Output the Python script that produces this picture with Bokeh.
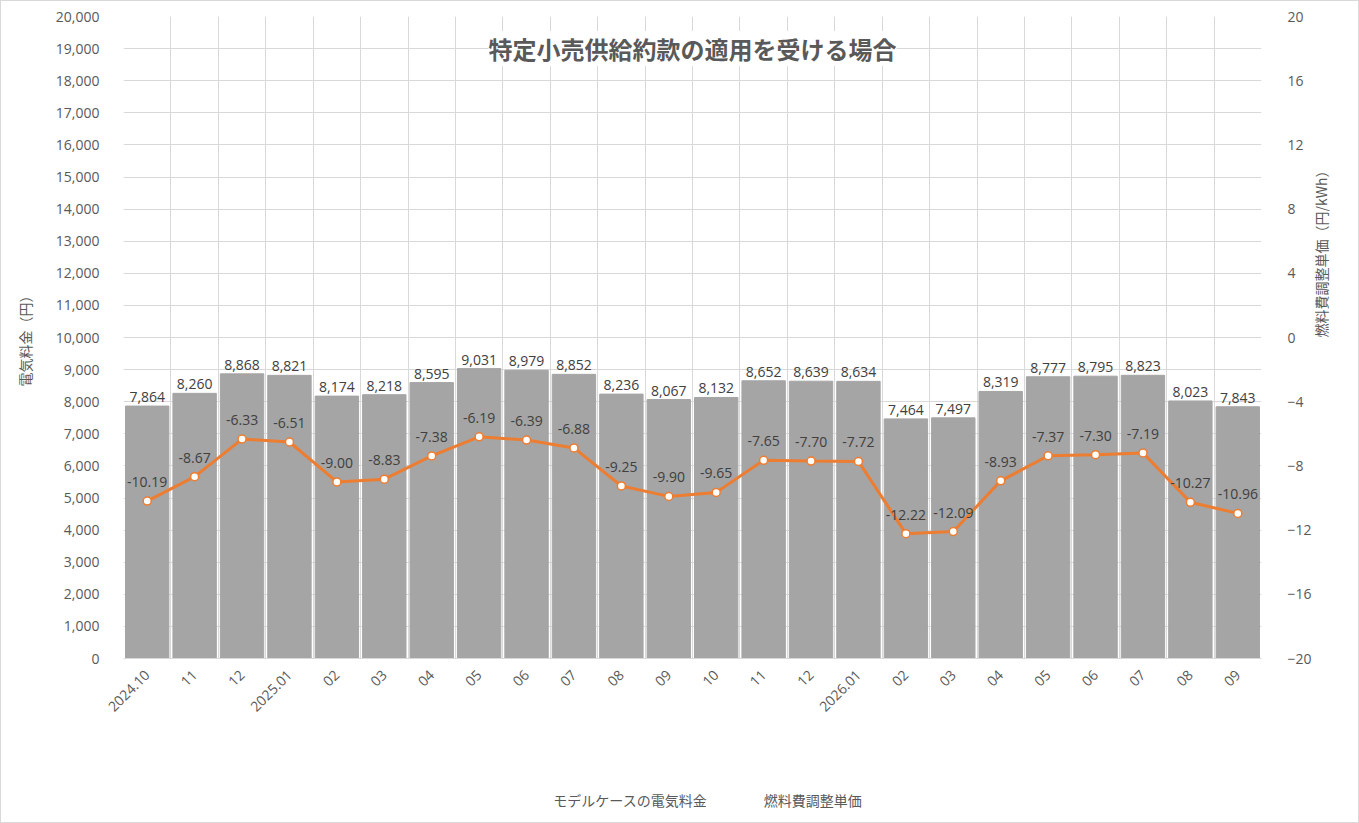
from bokeh.plotting import figure
from bokeh.layouts import column
from bokeh.models import (ColumnDataSource, Range1d, LinearAxis, FixedTicker,
                          Legend, LegendItem, Label, LabelSet)
from bokeh.core.properties import value
from bokeh.embed import file_html
from bokeh.resources import INLINE
import math

months = ["2024.10", "11", "12", "2025.01", "02", "03", "04", "05", "06", "07", "08", "09",
          "10", "11", "12", "2026.01", "02", "03", "04", "05", "06", "07", "08", "09"]
bill = [7864, 8260, 8868, 8821, 8174, 8218, 8595, 9031, 8979, 8852, 8236, 8067,
        8132, 8652, 8639, 8634, 7464, 7497, 8319, 8777, 8795, 8823, 8023, 7843]
fuel = [-10.19, -8.67, -6.33, -6.51, -9.00, -8.83, -7.38, -6.19, -6.39, -6.88, -9.25, -9.90,
        -9.65, -7.65, -7.70, -7.72, -12.22, -12.09, -8.93, -7.37, -7.30, -7.19, -10.27, -10.96]

title_text = "特定小売供給約款の適用を受ける場合"
left_label = "電気料金（円）"
right_label = "燃料費調整単価（円/kWh）"
bar_name = "モデルケースの電気料金"
line_name = "燃料費調整単価"

TXT = "#595959"
LBL = "#404040"
GRID = "#D9D9D9"
BAR = "#A5A5A5"
ORANGE = "#ED7D31"
NUM_FONT = "Open Sans"
JP_FONT = "Noto Sans CJK JP"

xs = [i + 0.5 for i in range(len(months))]
src = ColumnDataSource(dict(
    x=xs, bill=bill, fuel=fuel,
    bill_txt=[f"{v:,}" for v in bill],
    fuel_txt=[f"{v:.2f}" for v in fuel],
))

fig = figure(width=1357, height=777, output_backend="svg", toolbar_location=None,
             x_range=Range1d(0, len(months)), y_range=Range1d(0, 20000),
             frame_width=1138, frame_height=642,
             min_border_left=122, min_border_right=97, min_border_top=15, min_border_bottom=120)
fig.outline_line_color = None
fig.background_fill_color = "white"
fig.border_fill_color = "white"

fig.extra_y_ranges = {"fuel": Range1d(-20, 20)}

# grids
fig.xgrid.ticker = FixedTicker(ticks=list(range(len(months) + 1)))
fig.ygrid.ticker = FixedTicker(ticks=list(range(0, 20001, 1000)))
fig.xgrid.grid_line_color = GRID
fig.ygrid.grid_line_color = GRID

# x axis
xa = fig.xaxis[0]
xa.ticker = FixedTicker(ticks=xs)
xa.major_label_overrides = {x: m for x, m in zip(xs, months)}
xa.major_label_orientation = math.pi / 4
xa.major_tick_line_color = None
xa.minor_tick_line_color = None
xa.axis_line_color = GRID
xa.major_label_text_color = TXT
xa.major_label_text_font = NUM_FONT
xa.major_label_text_font_size = "14px"
xa.major_label_standoff = 8

# left axis
ya = fig.yaxis[0]
ya.ticker = FixedTicker(ticks=list(range(0, 20001, 1000)))
ya.major_label_overrides = {v: f"{v:,}" for v in range(0, 20001, 1000)}
ya.axis_line_color = None
ya.major_tick_line_color = None
ya.minor_tick_line_color = None
ya.major_label_text_color = TXT
ya.major_label_text_font = NUM_FONT
ya.major_label_text_font_size = "14px"
ya.major_label_standoff = 18
ya.axis_label = left_label
ya.axis_label_text_font = JP_FONT
ya.axis_label_text_font_style = "normal"
ya.axis_label_text_font_size = "14px"
ya.axis_label_text_color = TXT
ya.axis_label_standoff = 18

# right axis
ra = LinearAxis(y_range_name="fuel", ticker=FixedTicker(ticks=list(range(-20, 21, 4))))
ra.axis_line_color = None
ra.major_tick_line_color = None
ra.minor_tick_line_color = None
ra.major_label_text_color = TXT
ra.major_label_text_font = NUM_FONT
ra.major_label_text_font_size = "14px"
ra.major_label_standoff = 20
ra.axis_label = right_label
ra.axis_label_text_font = JP_FONT
ra.axis_label_text_font_style = "normal"
ra.axis_label_text_font_size = "14px"
ra.axis_label_text_color = TXT
ra.axis_label_standoff = 6
if "axis_label_orientation" in ra.properties():
    ra.axis_label_orientation = math.pi / 2
fig.add_layout(ra, "right")

# bars
fig.vbar(x="x", top="bill", width=0.915, source=src, color=BAR)

# line
fig.line(x="x", y="fuel", source=src, y_range_name="fuel", line_color=ORANGE, line_width=3)
fig.scatter(x="x", y="fuel", source=src, y_range_name="fuel", size=8,
            fill_color="white", line_color=ORANGE, line_width=1.5)

# data labels
fig.add_layout(LabelSet(x="x", y="bill", text="bill_txt", source=src, text_align="center",
                        text_baseline="bottom", y_offset=4, text_font=value(NUM_FONT),
                        text_font_size="14px", text_color=LBL))
fig.add_layout(LabelSet(x="x", y="fuel", text="fuel_txt", source=src, y_range_name="fuel",
                        text_align="center", text_baseline="middle", y_offset=19,
                        text_font=value(NUM_FONT), text_font_size="14px", text_color=LBL))

# title inside plot area
fig.add_layout(Label(x=len(months) / 2, y=19000, text=title_text, text_align="center",
                     text_baseline="middle", text_font=JP_FONT, text_font_style="bold",
                     text_font_size="24px", text_color=TXT, background_fill_color="white"))

# legend strip under the chart
leg = figure(width=1357, height=44, output_backend="svg", toolbar_location=None,
             x_range=Range1d(0, 1), y_range=Range1d(0, 1),
             min_border_left=0, min_border_right=0, min_border_top=0, min_border_bottom=0)
leg.axis.visible = False
leg.grid.visible = False
leg.outline_line_color = None
leg.border_fill_color = "white"
lb = leg.vbar(x=[], top=[], width=0.5, color=BAR)
ll = leg.line(x=[], y=[], line_color=ORANGE, line_width=3)
lp = leg.scatter(x=[], y=[], size=8, fill_color="white", line_color=ORANGE, line_width=1.5)
legend = Legend(items=[LegendItem(label=bar_name, renderers=[lb]),
                       LegendItem(label=line_name, renderers=[ll, lp])],
                orientation="horizontal", location="center", border_line_color=None,
                background_fill_alpha=0,
                label_text_font=JP_FONT, label_text_font_size="14px", label_text_color=TXT,
                spacing=26, glyph_width=26, glyph_height=10, label_standoff=5,
                margin=0, padding=0)
leg.add_layout(legend, "center")

p = column(fig, leg, spacing=0)
p.styles = {"border": "1px solid #D9D9D9"}

open("out.html", "w").write(file_html(p, INLINE))
